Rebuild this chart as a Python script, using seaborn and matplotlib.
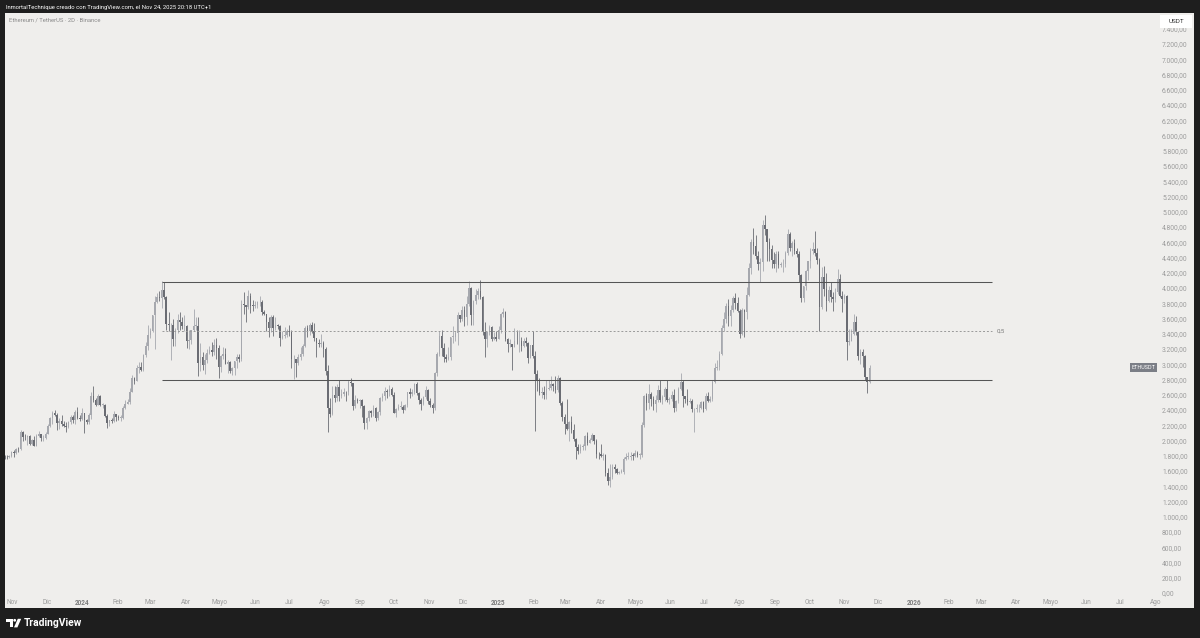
import numpy as np
import pandas as pd
import matplotlib
matplotlib.use("Agg")
import matplotlib.pyplot as plt
import matplotlib.transforms as mtransforms
from matplotlib.patches import Rectangle, Polygon, Circle
import seaborn as sns

# ETHUSDT 2D candles, starting 2023-10-25
first_open = 1790
close = [
    1787, 1778, 1801, 1848,  # oct 23
    1833, 1890, 1885, 2117, 2050, 2040, 2055, 1960, 2010, 1930, 2062, 2085, 2028, 2030, 2088,  # nov 23
    2195, 2290, 2360, 2340, 2225, 2260, 2215, 2195, 2175, 2240, 2305, 2270, 2380, 2300, 2282,  # dec 23
    2355, 2270, 2240, 2330, 2585, 2525, 2470, 2585, 2470, 2470, 2315, 2235, 2265, 2255, 2345, 2305,  # jan 24
    2300, 2300, 2420, 2485, 2505, 2640, 2825, 2785, 2945, 2965, 2925, 3115, 3245, 3385,  # feb 24
    3430, 3640, 3820, 3880, 3875, 3975, 3885, 3525, 3510, 3515, 3330, 3450, 3585, 3560, 3505, 3505,  # mar 24
    3310, 3315, 3450, 3500, 3505, 3010, 3100, 2985, 3060, 3150, 3190, 3155, 3250, 3215, 2970,  # apr 24
    3105, 3140, 3005, 3035, 2910, 2950, 3040, 3090, 3070, 3790, 3780, 3750, 3890, 3770, 3765,  # may 24
    3780, 3810, 3810, 3680, 3665, 3560, 3470, 3620, 3480, 3515, 3505, 3350, 3370, 3380, 3430,  # jun 24
    3420, 3065, 3070, 3020, 3100, 3130, 3240, 3480, 3430, 3510, 3440, 3345, 3275, 3270, 3280, 3205,  # jul 24
    2905, 2420, 2345, 2600, 2555, 2705, 2580, 2610, 2640, 2630, 2765, 2750, 2455, 2530, 2515,  # aug 24
    2535, 2450, 2225, 2300, 2390, 2360, 2420, 2290, 2370, 2560, 2580, 2650, 2630, 2675, 2600,  # sep 24
    2365, 2415, 2440, 2440, 2395, 2470, 2630, 2610, 2640, 2745, 2620, 2535, 2480, 2570, 2660, 2515,  # oct 24
    2460, 2420, 2890, 3140, 3370, 3215, 3090, 3070, 3100, 3360, 3360, 3410, 3650, 3590, 3705,  # nov 24
    3615, 3790, 3995, 3640, 3825, 3905, 3955, 3880, 3420, 3330, 3420, 3490, 3330, 3360, 3335,  # dec 24
    3450, 3655, 3690, 3325, 3265, 3265, 3225, 3310, 3300, 3300, 3240, 3310, 3285, 3080, 3250, 3110,  # jan 25
    2870, 2785, 2620, 2630, 2600, 2675, 2690, 2745, 2720, 2660, 2815, 2490, 2305, 2215,  # feb 25
    2150, 2240, 2140, 2020, 1920, 1860, 1915, 1930, 2060, 1970, 2010, 2070, 2000, 1825, 1820,  # mar 25
    1795, 1815, 1580, 1470, 1520, 1650, 1625, 1575, 1585, 1585, 1755, 1785, 1790, 1800, 1795,  # apr 25
    1840, 1810, 1815, 2205, 2580, 2495, 2610, 2545, 2480, 2530, 2665, 2530, 2565, 2680, 2530, 2540,  # may 25
    2595, 2420, 2520, 2680, 2770, 2580, 2540, 2510, 2520, 2410, 2410, 2420, 2425, 2510, 2410,  # jun 25
    2590, 2515, 2540, 2770, 2955, 2970, 3140, 3480, 3590, 3760, 3630, 3710, 3870, 3800, 3700,  # jul 25
    3400, 3715, 3680, 3910, 4260, 4600, 4550, 4425, 4320, 4340, 4830, 4780, 4600, 4510, 4370, 4310,  # aug 25
    4450, 4300, 4310, 4310, 4455, 4710, 4520, 4590, 4480, 4450, 4165, 3875, 4020, 4220, 4350,  # sep 25
    4490, 4515, 4460, 4370, 3750, 4140, 3990, 3830, 3980, 3880, 3850, 3950, 4120, 3900, 3850,  # oct 25
    3890, 3290, 3310, 3400, 3560, 3420, 3110, 3160, 3110, 2830, 2770, 2955,  # nov 25
]
high = [
    1810, 1805, 1815, 1866,
    1875, 1905, 1910, 2136, 2130, 2085, 2070, 2070, 2020, 2065, 2090, 2130, 2090, 2070, 2105,
    2210, 2310, 2385, 2405, 2355, 2290, 2330, 2260, 2240, 2260, 2335, 2340, 2400, 2445, 2330,
    2430, 2360, 2285, 2355, 2640, 2717, 2560, 2610, 2595, 2490, 2480, 2350, 2265, 2300, 2390, 2350,
    2330, 2330, 2450, 2530, 2540, 2685, 2860, 2830, 2990, 3035, 3030, 3130, 3290, 3520,
    3480, 3650, 3900, 3940, 3960, 4093, 4085, 3890, 3680, 3540, 3590, 3470, 3660, 3680, 3620, 3650,
    3510, 3445, 3455, 3730, 3620, 3620, 3280, 3160, 3130, 3200, 3240, 3290, 3325, 3350, 3250,
    3125, 3220, 3210, 3050, 3040, 2960, 3045, 3130, 3130, 3840, 3950, 3780, 3975, 3930, 3840,
    3835, 3830, 3890, 3840, 3710, 3660, 3620, 3650, 3650, 3620, 3530, 3510, 3430, 3490, 3460,
    3520, 3445, 3125, 3070, 3140, 3220, 3260, 3500, 3520, 3540, 3560, 3545, 3345, 3330, 3395, 3305,
    3230, 2990, 2560, 2720, 2720, 2740, 2790, 2680, 2690, 2650, 2800, 2820, 2760, 2595, 2560,
    2550, 2550, 2460, 2310, 2400, 2400, 2460, 2440, 2390, 2565, 2620, 2700, 2670, 2730, 2700,
    2640, 2420, 2480, 2520, 2465, 2480, 2640, 2690, 2670, 2760, 2770, 2630, 2560, 2580, 2720, 2670,
    2560, 2490, 2900, 3160, 3440, 3450, 3280, 3130, 3220, 3360, 3500, 3440, 3690, 3650, 3760,
    3760, 3890, 4090, 4010, 3840, 3990, 4000, 4109, 3890, 3560, 3430, 3520, 3500, 3420, 3440,
    3500, 3670, 3740, 3700, 3350, 3330, 3270, 3470, 3450, 3450, 3360, 3350, 3360, 3290, 3250, 3440,
    3170, 2930, 2820, 2700, 2720, 2790, 2790, 2850, 2760, 2845, 2860, 2830, 2520, 2350,
    2550, 2250, 2320, 2220, 2030, 1960, 1950, 1950, 2070, 2110, 2030, 2100, 2070, 2020, 1850,
    1960, 1830, 1820, 1640, 1690, 1690, 1690, 1640, 1600, 1620, 1790, 1830, 1850, 1850, 1840,
    1870, 1860, 1830, 2240, 2600, 2620, 2740, 2640, 2590, 2600, 2730, 2790, 2600, 2700, 2790, 2570,
    2650, 2680, 2530, 2700, 2880, 2800, 2590, 2680, 2560, 2540, 2430, 2480, 2480, 2520, 2520,
    2620, 2640, 2580, 2790, 3020, 3050, 3170, 3520, 3680, 3800, 3860, 3780, 3900, 3940, 3880,
    3720, 3740, 3730, 4010, 4330, 4640, 4790, 4690, 4480, 4390, 4890, 4956, 4780, 4660, 4560, 4470,
    4480, 4490, 4340, 4380, 4480, 4770, 4740, 4610, 4640, 4520, 4480, 4180, 4030, 4240, 4360,
    4520, 4600, 4750, 4520, 4390, 4280, 4290, 4200, 4030, 4080, 3950, 4000, 4250, 4180, 3960,
    3920, 3910, 3460, 3460, 3660, 3630, 3440, 3200, 3200, 3120, 2830, 2990,
]
low = [
    1760, 1755, 1773, 1790,
    1785, 1820, 1855, 1875, 2000, 2010, 1940, 1935, 1945, 1925, 1925, 2040, 2000, 1995, 2015,
    2080, 2180, 2215, 2315, 2140, 2155, 2195, 2180, 2115, 2160, 2215, 2230, 2220, 2280, 2250,
    2270, 2100, 2210, 2210, 2280, 2510, 2455, 2460, 2455, 2420, 2305, 2170, 2190, 2230, 2245, 2255,
    2275, 2260, 2280, 2410, 2475, 2480, 2630, 2740, 2780, 2880, 2910, 2915, 3090, 3185,
    3340, 3420, 3200, 3800, 3830, 3740, 3850, 3450, 3430, 3056, 3240, 3240, 3415, 3450, 3460, 3430,
    3210, 3205, 3270, 3440, 3445, 2852, 2905, 2930, 2870, 3020, 3130, 3110, 3120, 3070, 2815,
    2895, 3070, 3000, 2880, 2880, 2865, 2865, 2950, 3030, 3040, 3660, 3560, 3720, 3670, 3700,
    3740, 3735, 3770, 3640, 3640, 3430, 3360, 3420, 3370, 3450, 3465, 3240, 3330, 3350, 3360,
    3375, 2950, 2810, 2830, 2990, 3050, 3110, 3230, 3360, 3390, 3415, 3300, 3090, 3220, 3230, 3090,
    2860, 2111, 2310, 2330, 2510, 2520, 2520, 2560, 2580, 2520, 2600, 2720, 2400, 2420, 2490,
    2430, 2310, 2150, 2150, 2260, 2310, 2320, 2260, 2270, 2340, 2520, 2530, 2560, 2590, 2580,
    2355, 2310, 2400, 2410, 2360, 2400, 2440, 2560, 2580, 2610, 2600, 2480, 2400, 2460, 2550, 2480,
    2440, 2360, 2400, 2850, 3110, 3110, 3030, 3030, 3050, 3060, 3280, 3300, 3250, 3560, 3570,
    3500, 3520, 3760, 3520, 3520, 3790, 3850, 3850, 3380, 3100, 3230, 3380, 3300, 3320, 3310,
    3330, 3410, 3620, 3300, 3160, 3220, 2920, 3230, 3260, 3160, 3180, 3220, 3240, 3010, 3090, 3080,
    2120, 2650, 2600, 2560, 2550, 2550, 2660, 2660, 2650, 2620, 2640, 2460, 2250, 2080,
    2140, 1990, 2100, 1990, 1755, 1820, 1830, 1880, 1880, 1940, 1970, 2000, 1950, 1770, 1760,
    1780, 1750, 1540, 1410, 1385, 1500, 1580, 1560, 1565, 1570, 1560, 1740, 1760, 1740, 1740,
    1780, 1790, 1760, 1790, 2180, 2400, 2410, 2450, 2400, 2380, 2500, 2500, 2480, 2520, 2500, 2480,
    2520, 2380, 2390, 2490, 2660, 2440, 2490, 2460, 2490, 2380, 2110, 2380, 2380, 2410, 2380,
    2400, 2500, 2500, 2520, 2760, 2920, 2930, 3120, 3440, 3540, 3500, 3500, 3690, 3730, 3680,
    3350, 3380, 3360, 3600, 3900, 4180, 4450, 4380, 4230, 4080, 4220, 4700, 4360, 4360, 4260, 4260,
    4210, 4260, 4270, 4210, 4280, 4430, 4490, 4420, 4440, 4410, 4080, 3820, 3820, 3980, 4100,
    4260, 4440, 4420, 4310, 3435, 3720, 3900, 3700, 3820, 3820, 3700, 3820, 3920, 3880, 3680,
    3800, 3060, 3250, 3300, 3390, 3380, 3060, 3000, 2960, 2800, 2620, 2750,
]

# drawn range levels
range_top = 4080
range_bottom = 2800
range_mid = 3440
range_start = "2024-03-11"
range_end = "2026-03-11"

month_names = {2: "Feb", 3: "Mar", 4: "Abr", 5: "Mayo", 6: "Jun", 7: "Jul",
               8: "Ago", 9: "Sep", 10: "Oct", 11: "Nov", 12: "Dic"}
price_ticks = np.arange(0, 7401, 200)

header = "InmortalTechnique creado con TradingView.com, el Nov 24, 2025 20:18 UTC+1"
title = "Ethereum / TetherUS · 2D · Binance"

# ---------------------------------------------------------------
df = pd.DataFrame({"date": pd.date_range("2023-10-25", periods=len(close), freq="2D"),
                   "close": close, "high": high, "low": low})
df["open"] = [first_open] + close[:-1]
df["top"] = df[["open", "close"]].max(axis=1)
df["bot"] = df[["open", "close"]].min(axis=1)
df["high"] = np.maximum(df["high"], df["top"])
df["low"] = np.minimum(df["low"], df["bot"])
df["body"] = np.maximum(df["top"] - df["bot"], 9)

UP = "#a6a8ae"
DOWN = "#6a6c73"
PANEL = "#efeeec"
DARK = "#1e1e1e"
TICK = "#9c9c9c"
colors = np.where(df["close"] >= df["open"], UP, DOWN)

sns.set_theme(style="white")
plt.rcParams["font.family"] = ["Roboto", "DejaVu Sans"]

W, H = 1200, 638
fig = plt.figure(figsize=(12, 6.38), dpi=100, facecolor=DARK)

# background frame in pixel coordinates
frame = fig.add_axes([0, 0, 1, 1])
frame.set_xlim(0, W)
frame.set_ylim(H, 0)
frame.axis("off")
frame.add_patch(Rectangle((5, 13), 1189, 595, facecolor=PANEL, edgecolor="none"))
frame.text(6, 7, header, color="white", fontsize=4.2, va="center", ha="left")

# TradingView logo
frame.add_patch(Rectangle((6, 618.8), 6.6, 2.8, facecolor="white", edgecolor="none"))
frame.add_patch(Rectangle((9.6, 618.8), 3.0, 8.6, facecolor="white", edgecolor="none"))
frame.add_patch(Circle((14.7, 620.3), 1.4, facecolor="white", edgecolor="none"))
frame.add_patch(Polygon([(14.0, 627.4), (17.8, 618.8), (21.2, 618.8), (17.4, 627.4)],
                        closed=True, facecolor="white", edgecolor="none"))
frame.text(23.5, 623.3, "TradingView", color="white", fontsize=7.4, fontweight="semibold",
           va="center", ha="left")

# chart axes
ax = fig.add_axes([5 / W, 1 - 596 / H, 1189 / W, 583 / H])
ax.set_facecolor("none")

px_day = 1.138
px_price = 76.25 / 1000
nov1 = pd.Timestamp("2023-11-01")
ax.set_xlim(nov1 - pd.Timedelta(days=(12.6 - 5) / px_day),
            nov1 + pd.Timedelta(days=(1194 - 12.6) / px_day))
ax.set_ylim((593 - 596) / px_price, (593 - 13) / px_price)

ax.vlines(df["date"], df["low"], df["high"], colors=colors, linewidth=0.6, zorder=2)
ax.bar(df["date"], df["body"], bottom=df["bot"], width=1.35, color=colors,
       linewidth=0, zorder=3)

ax.hlines([range_top, range_bottom], pd.Timestamp(range_start), pd.Timestamp(range_end),
          colors="#555555", linewidth=0.75, zorder=4)
ax.hlines(range_mid, pd.Timestamp(range_start), pd.Timestamp(range_end),
          colors="#9a9a9a", linewidth=0.7, linestyles=(0, (2, 2)), zorder=4)
ax.text(pd.Timestamp(range_end) + pd.Timedelta(days=4), range_mid, "0,5",
        fontsize=4.4, color="#7a7a7a", va="center", ha="left")

# price axis
def fmt(v):
    return f"{v:,.2f}".replace(",", "X").replace(".", ",").replace("X", ".")

ax.yaxis.tick_right()
ax.set_yticks(price_ticks)
ax.set_yticklabels([fmt(v) for v in price_ticks])
ax.tick_params(axis="y", length=0, pad=-23, labelsize=4.9, labelcolor=TICK)

# time axis
months = pd.date_range("2023-11-01", "2026-08-01", freq="MS")
ax.set_xticks(months)
ax.set_xticklabels([str(m.year) if m.month == 1 else month_names[m.month] for m in months])
ax.tick_params(axis="x", length=0, pad=2.2, labelsize=4.7, labelcolor=TICK)
for lbl, m in zip(ax.get_xticklabels(), months):
    if m.month == 1:
        lbl.set_fontweight("bold")
        lbl.set_color("#7d7d7d")

ax.grid(False)
sns.despine(ax=ax, left=True, bottom=True, top=True, right=True)

# last price tag
blend = mtransforms.blended_transform_factory(ax.transAxes, ax.transData)
ax.text(0.9575, df["close"].iloc[-1], "ETHUSDT", transform=blend, ha="center", va="center",
        fontsize=3.9, color="white", zorder=6,
        bbox=dict(boxstyle="square,pad=0.35", facecolor="#7b7e86", edgecolor="none"))

# chart title
ax.text(4 / 1189, (596 - 20) / 583, title, transform=ax.transAxes, fontsize=4.2,
        color="#8a8a8a", va="center", ha="left")

# currency box on top
top = fig.add_axes([0, 0, 1, 1], zorder=5)
top.set_xlim(0, W)
top.set_ylim(H, 0)
top.axis("off")
top.add_patch(Rectangle((1160, 14.5), 32, 13.5, facecolor="white", edgecolor="none"))
top.text(1176, 21.5, "USDT", fontsize=4.6, color="#333333", ha="center", va="center")

fig.savefig("out.png", dpi=100, facecolor=DARK)
